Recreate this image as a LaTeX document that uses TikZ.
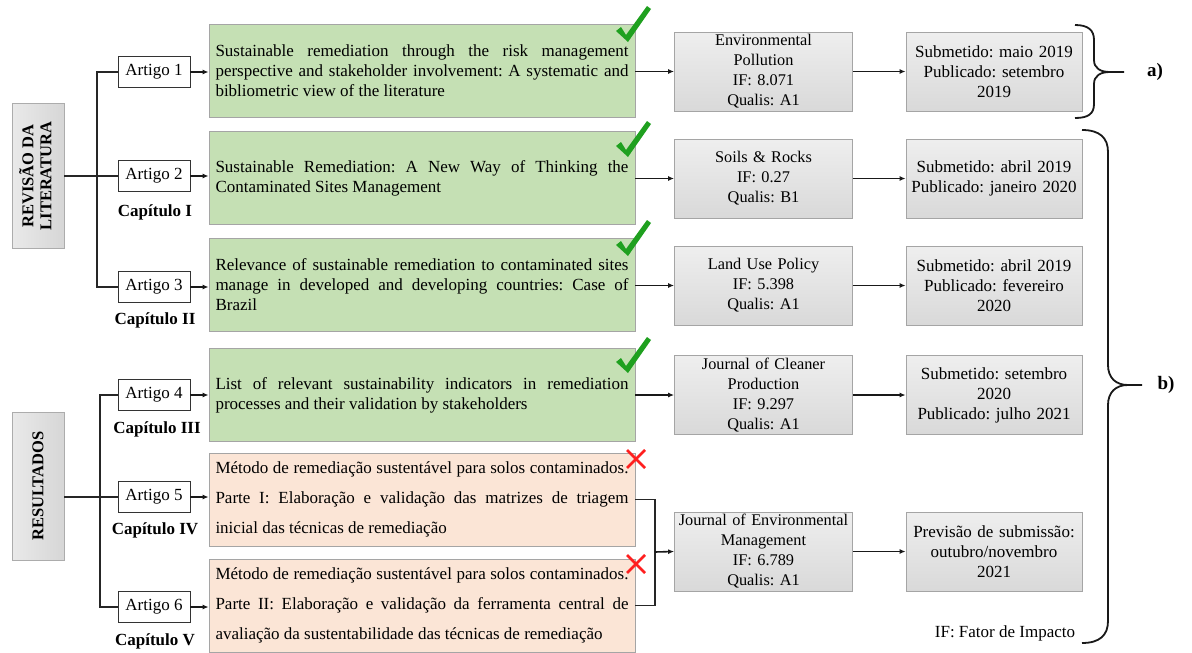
\documentclass[tikz,border=0pt]{standalone}
\usepackage{fontspec}
\setmainfont{Liberation Serif}
\usetikzlibrary{arrows.meta}

\definecolor{greenfill}{HTML}{C5E0B4}
\definecolor{peachfill}{HTML}{FBE5D6}
\definecolor{boxline}{HTML}{A5A5A5}
\definecolor{checkgreen}{HTML}{1FA01F}
\definecolor{crossred}{HTML}{FF1F1F}

\newcommand\bodyfont{\fontsize{17}{20}\selectfont}
\newcommand\journalfont{\fontsize{16.3}{20}\selectfont}
\tolerance=9999
\hyphenpenalty=10000
\frenchspacing

\begin{document}
\begin{tikzpicture}[x=1pt,y=-1pt,
  sidebox/.style={draw=gray!65, left color=gray!17, right color=gray!32,
    minimum width=52pt, inner sep=0pt, font=\fontsize{16.5}{18}\selectfont\bfseries},
  artbox/.style={draw=black!80, fill=white, line width=0.9pt, minimum width=72pt,
    minimum height=31pt, inner sep=0pt, font=\bodyfont},
  caplabel/.style={font=\bodyfont\bfseries, inner sep=0pt},
  gbox/.style={draw=boxline, fill=greenfill, line width=0.8pt, text width=413pt,
    inner xsep=6.5pt, inner ysep=0pt, minimum height=93pt, align=justify, font=\bodyfont},
  pbox/.style={gbox, fill=peachfill, font=\fontsize{17}{30}\selectfont},
  jbox/.style={draw=boxline, top color=gray!13, bottom color=gray!30, line width=0.8pt,
    minimum width=178pt, minimum height=79pt, text width=178pt, inner sep=0pt,
    align=center, font=\journalfont},
  dbox/.style={jbox, minimum width=176pt, text width=176pt, font=\bodyfont},
  tree/.style={line width=1.8pt, black!85},
  link/.style={line width=1.6pt, black!90, -{Latex[length=6pt,width=5pt]}},
  brace/.style={line width=1.8pt, black!90},
  tickmark/.pic={\fill[checkgreen] (-10,-9) -- (-5,-13) -- (0,-5) -- (21,-34) -- (25,-31) -- (2,2) -- cycle;},
  crossmark/.pic={\draw[crossred, line width=2.8pt] (-9,-9) -- (9,9) (-9,9) -- (9,-9);}
]
\useasboundingbox (0,0) rectangle (1192,653);

% section labels
\node[sidebox, minimum height=145pt] (rev) at (38,176)
  {\rotatebox{90}{\begin{tabular}{@{}c@{}}REVISÃO DA\\LITERATURA\end{tabular}}};
\node[sidebox, minimum height=148pt] (res) at (38,486)
  {\rotatebox{90}{RESULTADOS}};

% articles
\node[artbox] (art1) at (154,72)  {Artigo 1};
\node[artbox] (art2) at (154,176) {Artigo 2};
\node[artbox] (art3) at (154,287) {Artigo 3};
\node[artbox] (art4) at (154,395) {Artigo 4};
\node[artbox] (art5) at (154,497) {Artigo 5};
\node[artbox] (art6) at (154,607) {Artigo 6};

\node[caplabel] (cap1) at (155,212) {Capítulo I};
\node[caplabel] (cap2) at (155,320) {Capítulo II};
\node[caplabel] (cap3) at (157,429) {Capítulo III};
\node[caplabel] (cap4) at (155,530) {Capítulo IV};
\node[caplabel] (cap5) at (155,641) {Capítulo V};

% titles
\node[gbox] (g1) at (422,71) {Sustainable remediation through the risk management\linebreak
  perspective and stakeholder involvement: A systematic and\linebreak
  bibliometric view of the literature};
\node[gbox] (g2) at (422,178) {Sustainable Remediation: A New Way of Thinking the\linebreak
  Contaminated Sites Management};
\node[gbox] (g3) at (422,285) {Relevance of sustainable remediation to contaminated sites\linebreak
  manage in developed and developing countries: Case of\linebreak
  Brazil};
\node[gbox] (g4) at (422,395) {List of relevant sustainability indicators in remediation\linebreak
  processes and their validation by stakeholders};
\node[pbox] (p5) at (422,499.5) {Método de remediação sustentável para solos contaminados.\linebreak
  Parte I: Elaboração e validação das matrizes de triagem\linebreak
  inicial das técnicas de remediação};
\node[pbox] (p6) at (422,605.5) {Método de remediação sustentável para solos contaminados.\linebreak
  Parte II: Elaboração e validação da ferramenta central de\linebreak
  avaliação da sustentabilidade das técnicas de remediação};

% journals
\node[jbox] (j1) at (763.5,71.5)  {Environmental\\Pollution\\IF: 8.071\\Qualis: A1};
\node[jbox] (j2) at (763.5,178.5) {Soils \& Rocks\\IF: 0.27\\Qualis: B1};
\node[jbox] (j3) at (763.5,285.5) {Land Use Policy\\IF: 5.398\\Qualis: A1};
\node[jbox] (j4) at (763.5,395)   {Journal of Cleaner\\Production\\IF: 9.297\\Qualis: A1};
\node[jbox] (j5) at (763.5,551.5) {Journal of Environmental\\Management\\IF: 6.789\\Qualis: A1};

% submission status
\node[dbox] (d1) at (994,71.5)  {Submetido: maio 2019\\Publicado: setembro\\2019};
\node[dbox] (d2) at (994,178.5) {Submetido: abril 2019\\Publicado: janeiro 2020};
\node[dbox] (d3) at (994,285.5) {Submetido: abril 2019\\Publicado: fevereiro\\2020};
\node[dbox] (d4) at (994,395)   {Submetido: setembro\\2020\\Publicado: julho 2021};
\node[dbox] (d5) at (994,551.5) {Previsão de submissão:\\outubro/novembro\\2021};

\node[font=\bodyfont] (ifnote) at (1005,633) {IF: Fator de Impacto};

% tree connectors
\coordinate (t1) at (97,176);
\coordinate (t2) at (100,497);
\draw[tree] (rev.east) -- (art2.west);
\draw[tree] (art1.west) -| (t1) |- (art3.west);
\draw[tree] (art5.west -| res.east) -- (art5.west);
\draw[tree] (art4.west) -| (t2) |- (art6.west);

% article -> title
\foreach \a/\b in {art1/g1, art2/g2, art3/g3, art4/g4, art5/p5, art6/p6}
  \draw[link] (\a.east) -- (\a.east -| \b.west);

% title -> journal -> status
\foreach \a/\b/\c in {g1/j1/d1, g2/j2/d2, g3/j3/d3, g4/j4/d4}{
  \draw[link] (\b.west -| \a.east) -- (\b.west);
  \draw[link] (\b.east) -- (\c.west);
}
\coordinate (jn) at (655,552);
\draw[tree] (p5.east) -| (jn);
\draw[tree] (p6.east) -| (jn);
\draw[link] (jn) -- (j5.west);
\draw[link] (j5.east) -- (d5.west);

% status marks
\pic at (626,40) {tickmark};
\pic at (626,155) {tickmark};
\pic at (626,254) {tickmark};
\pic at (626,371) {tickmark};
\pic at (636,459) {crossmark};
\pic at (636,564) {crossmark};

% braces
\draw[brace] (1075,25) .. controls (1088,25) and (1094,30) .. (1094,40) -- (1094,60)
  .. controls (1094,68) and (1100,72) .. (1110,72) -- (1124,72)
  (1110,72) .. controls (1100,72) and (1094,76) .. (1094,84) -- (1094,104)
  .. controls (1094,114) and (1088,118) .. (1075,118);
\node[font=\fontsize{19}{22}\selectfont\bfseries] (la) at (1155,72) {a)};

\draw[brace] (1082,130) .. controls (1100,130) and (1108,138) .. (1108,152) -- (1108,365)
  .. controls (1108,378) and (1116,385) .. (1128,385) -- (1142,385)
  (1128,385) .. controls (1116,385) and (1108,392) .. (1108,405) -- (1108,621)
  .. controls (1108,635) and (1100,643) .. (1082,643);
\node[font=\fontsize{19}{22}\selectfont\bfseries] (lb) at (1166,385) {b)};
\end{tikzpicture}
\end{document}
